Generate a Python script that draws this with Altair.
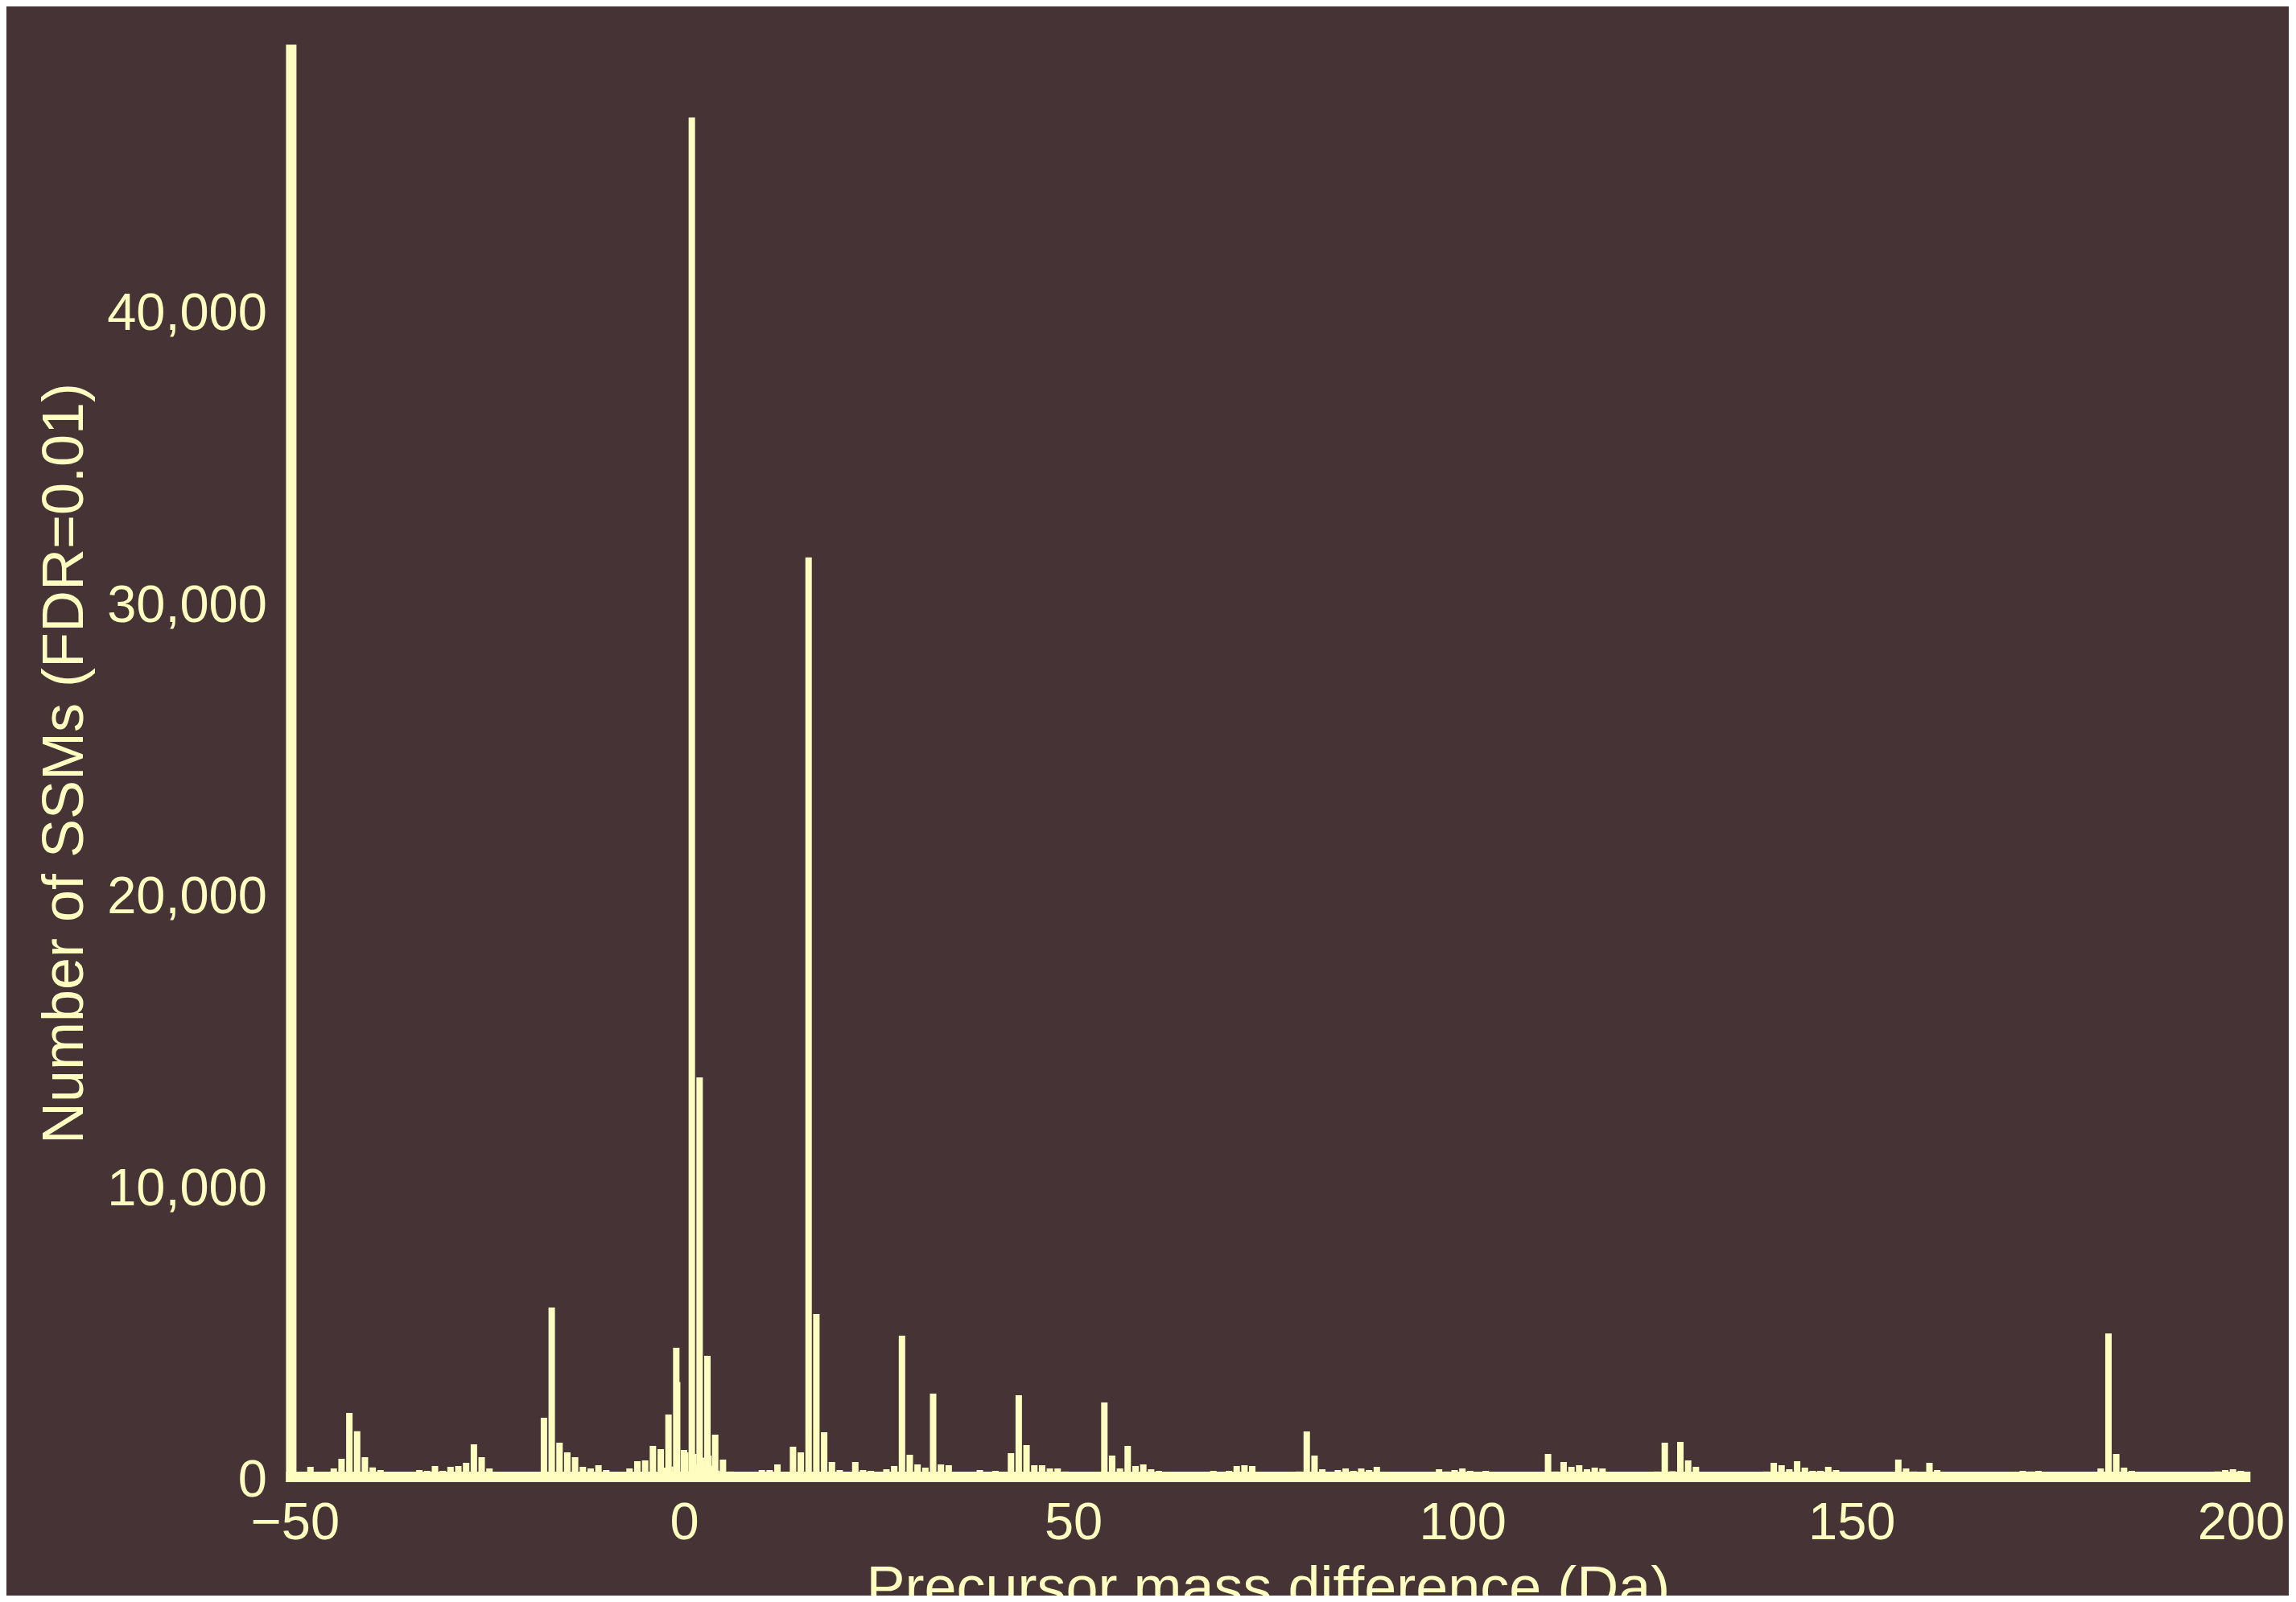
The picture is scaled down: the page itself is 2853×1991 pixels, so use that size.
import altair as alt
import pandas as pd

# Histogram of precursor mass differences (1 Da bins, centred on integer masses)
mass = list(range(-50, 201))
counts = [
    0, 100, 330, 120, 120, 276, 610, 2180, 1550, 665,          # -50 .. -41
    310, 220, 120, 120, 120, 120, 221, 193, 359, 193,          # -40 .. -31
    331, 359, 469, 1104, 662, 276, 130, 120, 120, 120,         # -30 .. -21
    120, 130, 2014, 5794, 1159, 828, 662, 331, 276, 386,       # -20 .. -11
    221, 150, 150, 276, 524, 552, 1049, 938, 2125, 4414,       # -10 .. -1
    910, 46593, 13685, 4139, 1435, 579, 170, 150, 150, 150,    # 0 .. 9
    221, 221, 414, 150, 1021, 828, 31508, 5573, 1517, 497,     # 10 .. 19
    221, 150, 497, 221, 193, 150, 248, 359, 4828, 745,         # 20 .. 29
    414, 303, 2842, 414, 386, 150, 140, 150, 221, 150,         # 30 .. 39
    193, 160, 800, 2787, 1076, 386, 386, 276, 276, 170,        # 40 .. 49
    140, 130, 140, 160, 2538, 717, 276, 1049, 359, 414,        # 50 .. 59
    248, 193, 140, 130, 120, 130, 140, 150, 193, 160,          # 60 .. 69
    193, 359, 386, 359, 160, 130, 120, 130, 140, 170,          # 70 .. 79
    1545, 717, 248, 160, 221, 276, 193, 276, 221, 331,         # 80 .. 89
    160, 140, 130, 120, 130, 140, 160, 248, 170, 221,          # 90 .. 99
    276, 193, 150, 193, 140, 130, 120, 120, 130, 140,          # 100 .. 109
    160, 773, 170, 497, 331, 386, 248, 303, 276, 150,          # 110 .. 119
    130, 120, 120, 130, 150, 170, 1159, 180, 1186, 552,        # 120 .. 129
    331, 150, 130, 120, 120, 120, 130, 140, 150, 170,          # 130 .. 139
    469, 386, 248, 524, 303, 193, 193, 331, 221, 160,          # 140 .. 149
    140, 130, 130, 120, 130, 160, 579, 276, 170, 160,          # 150 .. 159
    469, 221, 150, 130, 120, 120, 120, 120, 130, 140,          # 160 .. 169
    150, 160, 193, 170, 193, 150, 130, 120, 120, 130,          # 170 .. 179
    140, 160, 276, 4900, 773, 303, 193, 150, 130, 120,         # 180 .. 189
    120, 120, 120, 120, 130, 140, 150, 170, 221, 248,          # 190 .. 199
    193,                                                       # 200
]

# narrow in-between bars visible in the gaps around 0 Da
fine_mass = [-2.5, -1.5, -0.6, 0.45, 1.48, 1.6, 2.49, 3.42, 3.53, 4.45]
fine_counts = [303, 340, 3237, 828, 773, 414, 644, 717, 368, 200]

x_ticks = [-50, 0, 50, 100, 150, 200]
y_ticks = [0, 10000, 20000, 30000, 40000]

BG = "#463336"
FG = "#FFFDC0"
FONT = "Liberation Sans"

main_df = pd.DataFrame({"mass": mass, "count": counts})
fine_df = pd.DataFrame({"mass": fine_mass, "count": fine_counts})

x_enc = alt.X(
    "mass:Q",
    scale=alt.Scale(domain=[-50, 200], nice=False, zero=False),
    axis=alt.Axis(
        values=x_ticks,
        format="d",
        title="Precursor mass difference (Da)",
        labelPadding=27,
        labelFlush=False,
        titleX=1214,
        titleY=161.5,
        titleBaseline="alphabetic",
        titleAlign="center",
    ),
)
y_enc = alt.Y(
    "count:Q",
    scale=alt.Scale(domain=[0, 48923], nice=False),
    axis=alt.Axis(
        values=y_ticks,
        format=",d",
        title="Number of SSMs (FDR=0.01)",
        labelPadding=30,
        labelOffset=5,
        titleAngle=270,
        titleX=-258.4,
        titleY=887,
        titleBaseline="alphabetic",
        titleAlign="center",
    ),
)

fine_layer = alt.Chart(fine_df).mark_bar(size=2.5, color=FG, clip=True).encode(
    x=x_enc, y=y_enc
)
main_layer = alt.Chart(main_df).mark_bar(size=8, color=FG, clip=True).encode(
    x=x_enc, y=y_enc
)

chart = (
    alt.layer(fine_layer, main_layer)
    .properties(
        width=2428,
        height=1773.5,
        padding={"left": 353.4, "top": 53.5, "right": 55, "bottom": 148},
        autosize=alt.AutoSizeParams(type="none"),
        background=BG,
    )
    .configure_view(stroke=None)
    .configure_axis(
        domainColor=FG,
        domainWidth=13,
        domainCap="square",
        ticks=False,
        tickSize=0,
        grid=False,
        labelColor=FG,
        labelFont=FONT,
        labelFontSize=65,
        labelLimit=1000,
        titleColor=FG,
        titleFont=FONT,
        titleFontSize=72,
        titleFontWeight="normal",
        titleLimit=3000,
    )
)

chart.save("out.html", embed_options={"renderer": "svg", "actions": False})
